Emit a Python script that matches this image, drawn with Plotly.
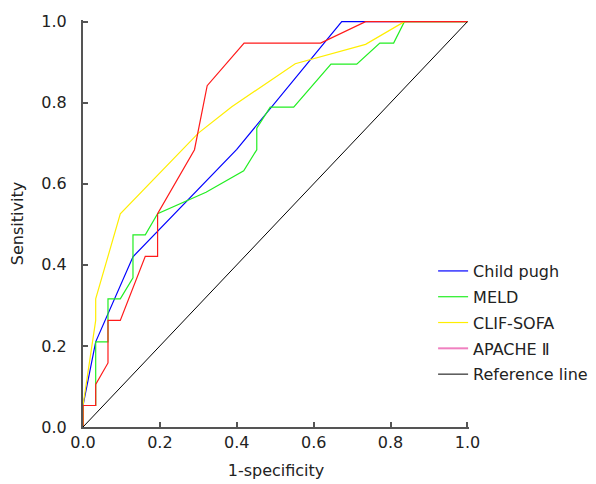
import plotly.graph_objects as go

# ROC curve data
child_x = [0, 0, 0.033, 0.13, 0.40, 0.673, 1.0]
child_y = [0, 0.053, 0.21, 0.42, 0.685, 1.0, 1.0]

meld_x = [0, 0, 0.033, 0.033, 0.065, 0.065, 0.097, 0.13, 0.13, 0.162, 0.194,
          0.32, 0.418, 0.452, 0.452, 0.487, 0.548, 0.645, 0.712, 0.772, 0.808, 0.836, 1.0]
meld_y = [0, 0.053, 0.053, 0.21, 0.21, 0.316, 0.316, 0.368, 0.474, 0.474, 0.526,
          0.579, 0.632, 0.684, 0.737, 0.789, 0.789, 0.895, 0.895, 0.947, 0.947, 1.0, 1.0]

clif_x = [0, 0, 0.033, 0.033, 0.097, 0.30, 0.387, 0.552, 0.735, 0.836, 1.0]
clif_y = [0, 0.053, 0.263, 0.316, 0.526, 0.725, 0.79, 0.896, 0.944, 1.0, 1.0]

apache_x = [0, 0, 0.033, 0.033, 0.065, 0.065, 0.097, 0.162, 0.194, 0.194,
            0.29, 0.323, 0.419, 0.618, 0.735, 1.0]
apache_y = [0, 0.053, 0.053, 0.105, 0.158, 0.263, 0.263, 0.421, 0.421, 0.526,
            0.684, 0.842, 0.947, 0.947, 1.0, 1.0]

ref_x = [0, 1]
ref_y = [0, 1]

tick_vals = [0.0, 0.2, 0.4, 0.6, 0.8, 1.0]
tick_text = ["0.0", "0.2", "0.4", "0.6", "0.8", "1.0"]

FONT = "DejaVu Sans"
FS = 16
LW = 1.2

fig = go.Figure()
fig.add_trace(go.Scatter(x=child_x, y=child_y, mode="lines", name="Child pugh",
                         legendgroup="g1", line=dict(color="#0000ff", width=LW)))
fig.add_trace(go.Scatter(x=meld_x, y=meld_y, mode="lines", name="MELD",
                         legendgroup="g2", line=dict(color="#22ee22", width=LW)))
fig.add_trace(go.Scatter(x=clif_x, y=clif_y, mode="lines", name="CLIF-SOFA",
                         legendgroup="g3", line=dict(color="#ffee00", width=LW)))
fig.add_trace(go.Scatter(x=apache_x, y=apache_y, mode="lines", name="APACHE Ⅱ",
                         legendgroup="g4", showlegend=False,
                         line=dict(color="#ff1a1a", width=LW)))
fig.add_trace(go.Scatter(x=[None], y=[None], mode="lines", name="APACHE Ⅱ",
                         legendgroup="g4", line=dict(color="#f080c0", width=2)))
fig.add_trace(go.Scatter(x=ref_x, y=ref_y, mode="lines", name="Reference line",
                         legendgroup="g5", line=dict(color="#000000", width=1)))

axis_common = dict(
    showgrid=False, zeroline=False, showline=True, linecolor="#555555", linewidth=2,
    ticks="inside", ticklen=5, tickwidth=1.5, tickcolor="#555555",
    tickvals=tick_vals, ticktext=tick_text, automargin=False,
    tickfont=dict(family=FONT, size=FS, color="#222222"),
)

# page body has an 8px margin, so the figure is drawn 8px smaller and offset
fig.update_layout(
    width=588, height=476,
    margin=dict(l=75, r=127, t=12, b=57, autoexpand=False),
    paper_bgcolor="white", plot_bgcolor="white",
    font=dict(family=FONT, size=FS, color="#222222"),
    xaxis=dict(range=[0, 1.004], title=dict(text="1-specificity", standoff=14,
               font=dict(family=FONT, size=FS, color="#222222")), **axis_common),
    yaxis=dict(range=[0, 1.004], title=dict(text="Sensitivity", standoff=14,
               font=dict(family=FONT, size=FS, color="#222222")),
               ticklabelstandoff=11, **axis_common),
    legend=dict(x=0.907, y=0.425, xanchor="left", yanchor="top",
                bgcolor="rgba(0,0,0,0)", font=dict(family=FONT, size=FS, color="#222222"),
                tracegroupgap=2),
    showlegend=True,
)

fig.write_html("out.html")
